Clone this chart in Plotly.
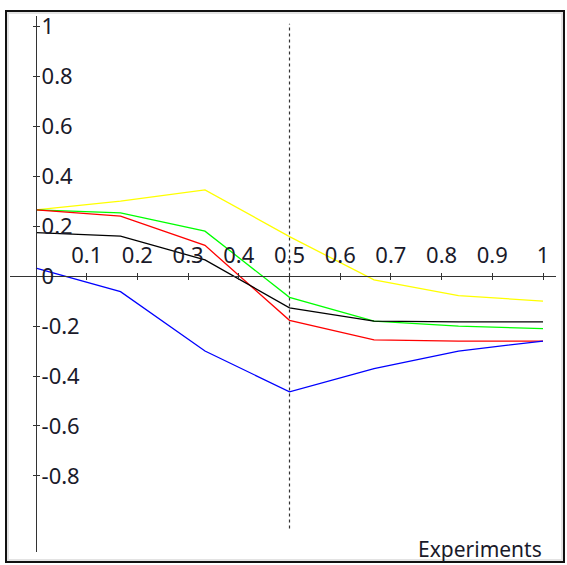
import plotly.graph_objects as go

# experiment positions along the x axis
x_vals = [0.0, 0.1667, 0.3333, 0.5, 0.6667, 0.8333, 1.0]

yellow_vals = [0.265, 0.30, 0.345, 0.158, -0.015, -0.078, -0.10]
green_vals = [0.265, 0.253, 0.18, -0.085, -0.18, -0.20, -0.21]
red_vals = [0.265, 0.24, 0.123, -0.177, -0.255, -0.26, -0.26]
black_vals = [0.174, 0.16, 0.065, -0.127, -0.18, -0.183, -0.183]
blue_vals = [0.032, -0.062, -0.30, -0.463, -0.37, -0.30, -0.26]

x_ticks = [0.1, 0.2, 0.3, 0.4, 0.5, 0.6, 0.7, 0.8, 0.9, 1.0]
x_tick_text = ["0.1", "0.2", "0.3", "0.4", "0.5", "0.6", "0.7", "0.8", "0.9", "1"]
y_ticks = [-0.8, -0.6, -0.4, -0.2, 0.0, 0.2, 0.4, 0.6, 0.8, 1.0]
y_tick_text = ["-0.8", "-0.6", "-0.4", "-0.2", "0", "0.2", "0.4", "0.6", "0.8", "1"]

series = [
    ("yellow", yellow_vals, "#ffff00"),
    ("green", green_vals, "#00ff00"),
    ("red", red_vals, "#ff0000"),
    ("black", black_vals, "#000000"),
    ("blue", blue_vals, "#0000ff"),
]

W, H = 567, 565
font = "Noto Sans"
axis_col = "#333333"
text_col = "#1a1a2a"

fig = go.Figure()

# dashed marker at x = 0.5
fig.add_trace(go.Scatter(x=[0.5, 0.5], y=[-1.01, 1.01], mode="lines",
                         line=dict(color="#333333", width=1.2, dash="3px,3px"),
                         hoverinfo="skip", showlegend=False))

for name, vals, col in series:
    fig.add_trace(go.Scatter(x=x_vals, y=vals, mode="lines", name=name,
                             line=dict(color=col, width=1.3), showlegend=False))

xr = [(10 - 36) / 507, (556 - 36) / 507]
yr = [-(552 - 273) / 252.5, (273 - 10) / 252.5]
xdom = [10 / W, 556 / W]
ydom = [1 - 552 / H, 1 - 10 / H]
x_pos = 1 - 273 / H
y_pos = 36 / W

common_x = dict(range=xr, domain=xdom, anchor="free", position=x_pos,
                showgrid=False, zeroline=False, tickvals=x_ticks,
                ticklen=3, tickwidth=1.2, tickcolor=axis_col)
common_y = dict(range=yr, domain=ydom, anchor="free", position=y_pos,
                showgrid=False, zeroline=False, tickvals=y_ticks,
                ticklen=3, tickwidth=1.2, tickcolor=axis_col)

fig.update_layout(
    width=W, height=H,
    margin=dict(l=0, r=0, t=0, b=0),
    paper_bgcolor="white", plot_bgcolor="white",
    xaxis=dict(common_x, side="top", ticks="outside", ticktext=x_tick_text,
               showline=True, linecolor=axis_col, linewidth=1.3,
               ticklabelstandoff=1,
               tickfont=dict(family=font, size=22, color=text_col)),
    yaxis=dict(common_y, side="right", ticks="outside", ticktext=y_tick_text,
               showline=True, linecolor=axis_col, linewidth=1.3,
               ticklabelstandoff=-3,
               tickfont=dict(family=font, size=22, color=text_col)),
    xaxis2=dict(common_x, overlaying="x", side="bottom", ticks="outside",
                showticklabels=False, showline=False),
    yaxis2=dict(common_y, overlaying="y", side="left", ticks="outside",
                showticklabels=False, showline=False),
    annotations=[dict(text="Experiments", xref="paper", yref="paper",
                      x=544 / W, y=1 - 549 / H, xanchor="right", yanchor="middle",
                      showarrow=False,
                      font=dict(family=font, size=21, color=text_col))],
    shapes=[
        dict(type="rect", xref="paper", yref="paper",
             x0=8 / W, x1=562 / W, y0=1 - 560 / H, y1=1 - 7 / H,
             line=dict(color="#e3e3e3", width=2)),
        dict(type="rect", xref="paper", yref="paper",
             x0=6 / W, x1=564 / W, y0=1 - 562 / H, y1=1 - 5 / H,
             line=dict(color="#111111", width=2)),
    ],
)

# invisible traces so the overlay axes are drawn
fig.add_trace(go.Scatter(x=[0.5], y=[0], xaxis="x2", yaxis="y2", mode="markers",
                         marker=dict(opacity=0), hoverinfo="skip", showlegend=False))

fig.write_html("out.html", config={"displayModeBar": False},
               post_script="document.body.style.margin='0px';document.body.style.overflow='hidden';")
